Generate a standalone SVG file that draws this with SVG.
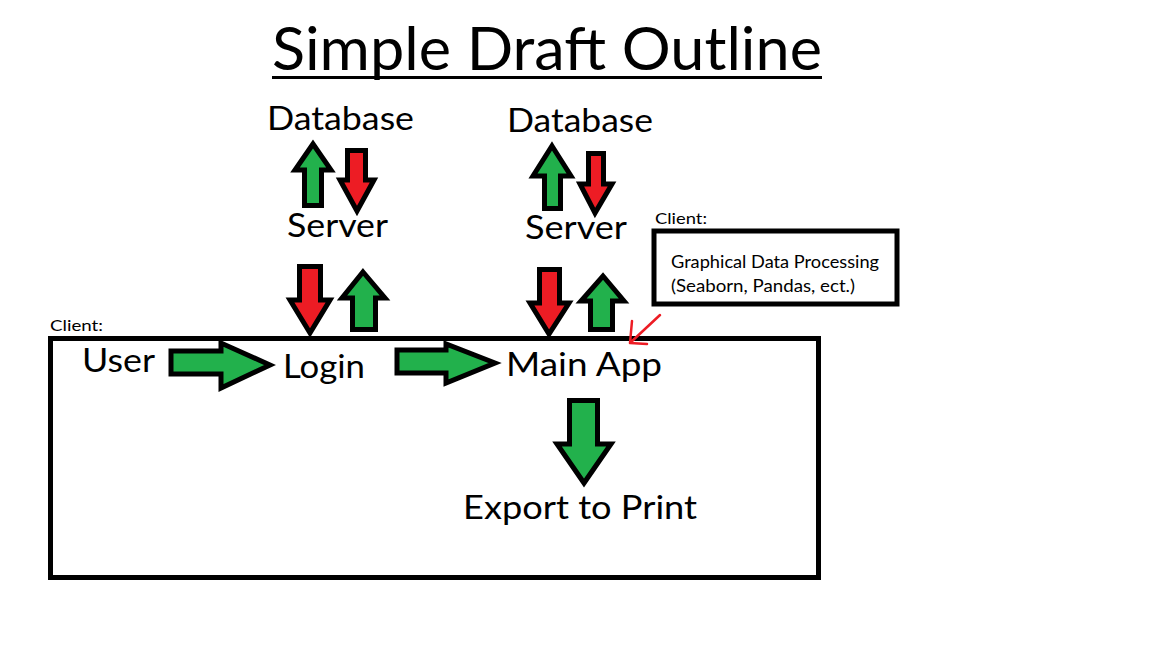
<svg xmlns="http://www.w3.org/2000/svg" width="1152" height="648" viewBox="0 0 1152 648">
<style>
text{font-family:Lato,"Open Sans","Liberation Sans",sans-serif;fill:#000}
.big{font-size:32px}
.small{font-size:16px}
.mid{font-size:17.5px}
.box{fill:none;stroke:#000;stroke-width:5}
.g{fill:#22B14C;stroke:#000;stroke-width:5;stroke-linejoin:miter}
.r{fill:#ED1C24;stroke:#000;stroke-width:5;stroke-linejoin:miter}
.thin{fill:none;stroke:#ED1C24;stroke-width:2.5;stroke-linecap:round}
</style>
<rect width="1152" height="648" fill="#fff"/>
<g id="title">
<text x="272" y="70" font-size="60" textLength="550" lengthAdjust="spacingAndGlyphs">Simple Draft Outline</text>
<rect x="272" y="76" width="550" height="3" fill="#000"/>
</g>
<g id="client-box">
<rect class="box" x="50.5" y="338.5" width="768" height="239"/>
<text class="small" x="50" y="331" textLength="53" lengthAdjust="spacingAndGlyphs">Client:</text>
</g>
<g id="database1"><text class="big" x="267" y="130" textLength="147" lengthAdjust="spacingAndGlyphs">Database</text></g>
<g id="database2"><text class="big" x="507" y="132" textLength="146" lengthAdjust="spacingAndGlyphs">Database</text></g>
<g id="server1"><text class="big" x="287" y="237" textLength="101" lengthAdjust="spacingAndGlyphs">Server</text></g>
<g id="server2"><text class="big" x="525" y="239" textLength="102" lengthAdjust="spacingAndGlyphs">Server</text></g>
<g id="user"><text class="big" x="82" y="372" textLength="73" lengthAdjust="spacingAndGlyphs">User</text></g>
<g id="login"><text class="big" x="283" y="378" textLength="82" lengthAdjust="spacingAndGlyphs">Login</text></g>
<g id="main-app"><text class="big" x="506" y="376" textLength="156" lengthAdjust="spacingAndGlyphs">Main App</text></g>
<g id="export"><text class="big" x="463" y="519" textLength="234" lengthAdjust="spacingAndGlyphs">Export to Print</text></g>
<g id="graphical">
<text class="small" x="655" y="224" textLength="52" lengthAdjust="spacingAndGlyphs">Client:</text>
<rect class="box" x="654" y="231" width="243" height="73"/>
<text class="mid" x="671" y="268" textLength="208" lengthAdjust="spacingAndGlyphs">Graphical Data Processing</text>
<text class="mid" x="671" y="292" textLength="184" lengthAdjust="spacingAndGlyphs">(Seaborn, Pandas, ect.)</text>
</g>
<g id="connectors">
<polygon class="g" points="313,144 331,170 321.5,170 321.5,205.5 304.5,205.5 304.5,170 295,170"/>
<polygon class="r" points="347.5,150.5 365.5,150.5 365.5,180 374,180 357,211 340,180 347.5,180"/>
<polygon class="r" points="299.5,266.5 320.5,266.5 320.5,300 330,300 310,333 290,300 299.5,300"/>
<polygon class="g" points="363,272 385,298 375.5,298 375.5,329.5 352.5,329.5 352.5,298 342,298"/>
<polygon class="g" points="552,146 571,176 560.5,176 560.5,208.5 544.5,208.5 544.5,176 533,176"/>
<polygon class="r" points="588.5,153.5 603.5,153.5 603.5,184 612,184 595,213 580,184 588.5,184"/>
<polygon class="r" points="539.5,269.5 559.5,269.5 559.5,303 569,303 549,334 530,303 539.5,303"/>
<polygon class="g" points="603,276 624,301 612.5,301 612.5,329.5 590.5,329.5 590.5,301 581,301"/>
<polygon class="g" points="171,351 221,351 221,343 270,365 221,388 221,374 171,374"/>
<polygon class="g" points="397,350 446,350 446,344 495,363 446,383 446,373 397,373"/>
<polygon class="g" points="569.5,400.5 597.5,400.5 597.5,444 611,444 584,483 557,444 569.5,444"/>
<path class="thin" d="M660,315 L630,343 M630,343 L632,321 M630,343 L647,344"/>
</g>
</svg>
